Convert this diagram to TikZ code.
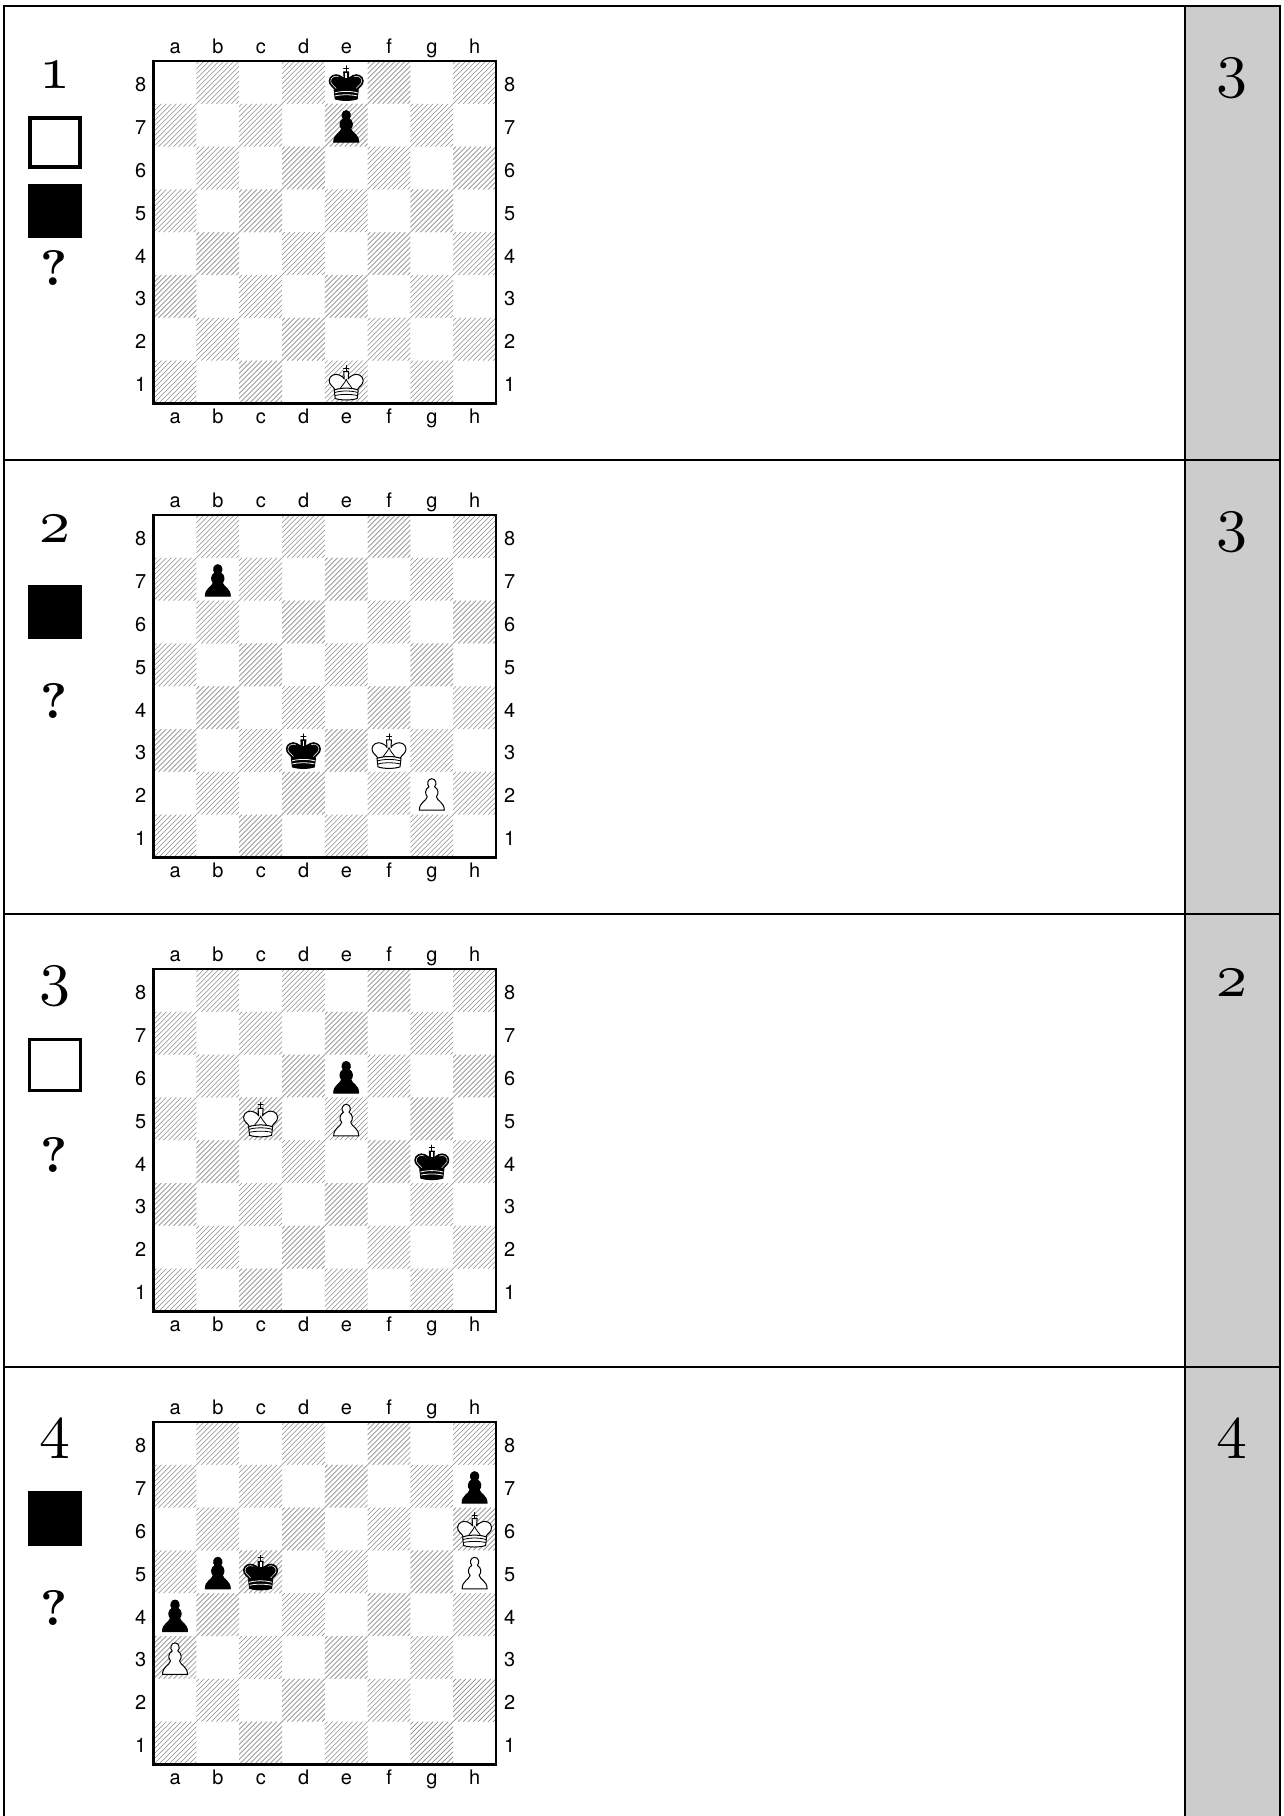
\documentclass[tikz,border=0pt]{standalone}
\usepackage{fontspec}
\newfontfamily\boardfont{TeX Gyre Heros}
\font\movefont=cmmi10 at 62pt
\font\askfont=cmbx10 at 50pt
\definecolor{panelGray}{RGB}{204,204,204}
\definecolor{hatchGray}{RGB}{140,140,140}
\tikzset{
  coordlabel/.style={font=\boardfont\fontsize{20}{20}\selectfont,inner sep=0pt},
  movenum/.style={font=\movefont,inner sep=0pt,anchor=base},
  asklabel/.style={font=\askfont,inner sep=0pt},
  % koenig: erste Farbe Fuellung, zweite Farbe Innenlinien
  pics/king/.style 2 args={code={
    \draw[line width=1pt,line cap=round] (0,-16.5)--(0,-10) (-2.5,-14)--(2.5,-14);
    \draw[fill=#1,line width=1pt,line join=round]
      (-11,8) .. controls (-13,4) and (-17,3) .. (-17,-1.5)
      .. controls (-17,-6.5) and (-11,-9) .. (-7,-7)
      .. controls (-4,-6) and (-2.5,-4) .. (-2,-3)
      -- (-2.5,-10.5) -- (2.5,-10.5) -- (2,-3)
      .. controls (2.5,-4) and (4,-6) .. (7,-7)
      .. controls (11,-9) and (17,-6.5) .. (17,-1.5)
      .. controls (17,3) and (13,4) .. (11,8)
      .. controls (5,6) and (-5,6) .. (-11,8) -- cycle;
    \draw[fill=#1,line width=1pt]
      (-12,8) .. controls (-5,5.5) and (5,5.5) .. (12,8) -- (11,16.5)
      .. controls (5,18.5) and (-5,18.5) .. (-11,16.5) -- cycle;
    \draw[#2,line width=.8pt]
      (-11.5,10.5) .. controls (-5,8.5) and (5,8.5) .. (11.5,10.5)
      (-11,13.5) .. controls (-5,12) and (5,12) .. (11,13.5);
  }},
  pics/kingwhite/.style={code={
    \pic {king={white}{black}};
    \draw[line width=.8pt]
      (0,-3) .. controls (-1,1) and (-4,3) .. (-6,6.5)
      (0,-3) .. controls (1,1) and (4,3) .. (6,6.5);
  }},
  pics/kingblack/.style={code={
    \pic {king={black}{white}};
    \fill[white] (-.9,-9.5) rectangle (.9,-4.5);
    \draw[white,line width=.5pt]
      (-10,6) .. controls (-12,3) and (-15.5,2) .. (-15.5,-1.5)
      .. controls (-15.5,-5) and (-11,-7.5) .. (-7.5,-5.5)
      (10,6) .. controls (12,3) and (15.5,2) .. (15.5,-1.5)
      .. controls (15.5,-5) and (11,-7.5) .. (7.5,-5.5);
  }},
  pics/pawn/.style={code={
    \draw[fill=#1,line width=1pt,line join=round]
      (-12.5,17) .. controls (-12.5,9) and (-5.5,8) .. (-4.5,3.5)
      .. controls (-7,1) and (-7,-4) .. (-2.8,-6.5)
      .. controls (-5.5,-9) and (-4,-14.5) .. (0,-14.5)
      .. controls (4,-14.5) and (5.5,-9) .. (2.8,-6.5)
      .. controls (7,-4) and (7,1) .. (4.5,3.5)
      .. controls (5.5,8) and (12.5,9) .. (12.5,17) -- cycle;
  }},
  % dunkles Feld, schraffiert
  pics/darksq/.style={code={
    \begin{scope}
      \clip (0,0) rectangle (42.8,42.8);
      \foreach \h in {-40,-35,...,45}{
        \draw[hatchGray,line width=.6pt] (\h,42.8)--(\h+42.8,0);
      }
    \end{scope}
  }},
}
% \chessboard{x}{y}
\newcommand{\chessboard}[2]{%
  \begin{scope}[shift={(#1,#2)}]
    \foreach \r in {0,...,7}{
      \foreach \f in {0,...,7}{
        \pgfmathparse{int(mod(\r+\f,2))}
        \ifnum\pgfmathresult=1
          \pic at (\f*42.8,\r*42.8) {darksq};
        \fi
      }
    }
    \draw[line width=2.4pt] (0,0) rectangle (342.4,342.4);
    \foreach \lab [count=\i from 0] in {a,b,c,d,e,f,g,h}{
      \node[coordlabel,anchor=base] (top\lab) at (\i*42.8+21.6,-8) {\lab};
      \node[coordlabel,anchor=base] (bot\lab) at (\i*42.8+21.6,362) {\lab};
    }
    \foreach \lab [count=\i from 0] in {8,7,6,5,4,3,2,1}{
      \node[coordlabel] (lft\lab) at (-13,\i*42.8+24) {\lab};
      \node[coordlabel] (rgt\lab) at (356,\i*42.8+24) {\lab};
    }
  \end{scope}
}
% \putpiece{x}{y}{file}{rank}{piece}
\newcommand{\putpiece}[5]{%
  \pic at (#1+#3*42.8-21.4,#2+342.4-#4*42.8+21.4) {#5};
}
\begin{document}
\begin{tikzpicture}[x=1pt,y=-1pt]
  \useasboundingbox (0,0) rectangle (1284,1816);
  \fill[white] (0,0) rectangle (1284,1816);

  % rechte Spalte
  \fill[panelGray] (1185,6) rectangle (1280,1816);
  \draw[line width=2pt] (4,1816)--(4,6)--(1280,6)--(1280,1816);
  \draw[line width=2pt] (1185,6)--(1185,1816);
  \foreach \y in {460,913.5,1366.5}{
    \draw[line width=2pt] (4,\y)--(1280,\y);
  }

  % Aufgabe 1
  \node[movenum] (num1) at (54.5,88) {1};
  \draw[line width=3.6pt] (29.8,117.8) rectangle (80.2,167.2);
  \fill (28,184) rectangle (82,238);
  \node[asklabel] (ask1) at (54.5,268) {?};
  \node[movenum] (res1) at (1232,85) {3};
  \chessboard{153.6}{61}
  \putpiece{153.6}{61}{5}{8}{kingblack}
  \putpiece{153.6}{61}{5}{7}{pawn=black}
  \putpiece{153.6}{61}{5}{1}{kingwhite}

  % Aufgabe 2
  \node[movenum] (num2) at (54.5,542) {2};
  \fill (28,585) rectangle (82,639);
  \node[asklabel] (ask2) at (54.5,701) {?};
  \node[movenum] (res2) at (1232,539) {3};
  \chessboard{153.6}{515}
  \putpiece{153.6}{515}{2}{7}{pawn=black}
  \putpiece{153.6}{515}{4}{3}{kingblack}
  \putpiece{153.6}{515}{6}{3}{kingwhite}
  \putpiece{153.6}{515}{7}{2}{pawn=white}

  % Aufgabe 3
  \node[movenum] (num3) at (54.5,993) {3};
  \draw[line width=3pt] (29.5,1039.5) rectangle (80.5,1090.5);
  \node[asklabel] (ask3) at (54.5,1155) {?};
  \node[movenum] (res3) at (1232,996) {2};
  \chessboard{153.6}{969}
  \putpiece{153.6}{969}{5}{6}{pawn=black}
  \putpiece{153.6}{969}{5}{5}{pawn=white}
  \putpiece{153.6}{969}{3}{5}{kingwhite}
  \putpiece{153.6}{969}{7}{4}{kingblack}

  % Aufgabe 4
  \node[movenum] (num4) at (54.5,1446) {4};
  \fill (28,1491) rectangle (82,1546);
  \node[asklabel] (ask4) at (54.5,1608) {?};
  \node[movenum] (res4) at (1232,1446) {4};
  \chessboard{153.6}{1422}
  \putpiece{153.6}{1422}{8}{7}{pawn=black}
  \putpiece{153.6}{1422}{8}{6}{kingwhite}
  \putpiece{153.6}{1422}{8}{5}{pawn=white}
  \putpiece{153.6}{1422}{2}{5}{pawn=black}
  \putpiece{153.6}{1422}{3}{5}{kingblack}
  \putpiece{153.6}{1422}{1}{4}{pawn=black}
  \putpiece{153.6}{1422}{1}{3}{pawn=white}
\end{tikzpicture}
\end{document}
